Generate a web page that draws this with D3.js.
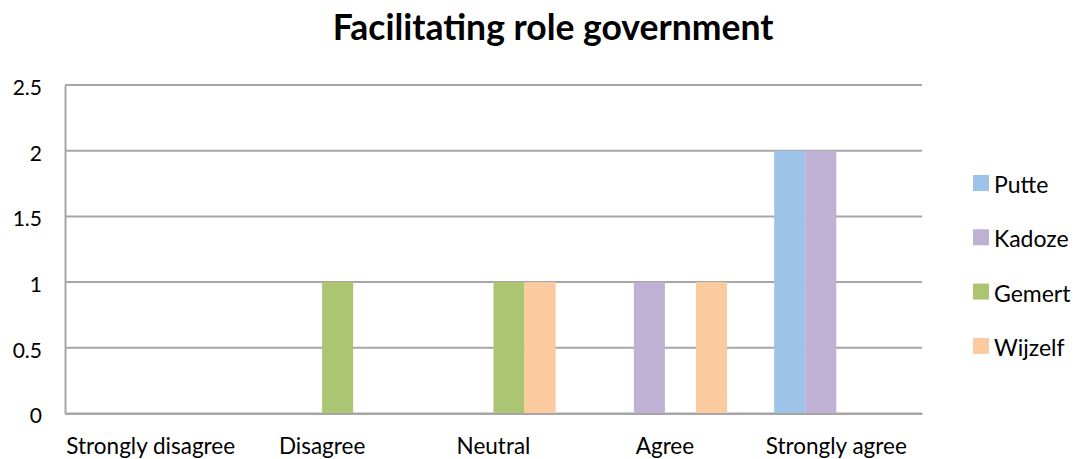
<!DOCTYPE html>
<html>
<head>
<meta charset="utf-8">
<script src="https://cdn.jsdelivr.net/npm/d3@7"></script>
<style>
  html, body { margin: 0; padding: 0; background: #fff; }
  svg { display: block; font-family: Lato, "Open Sans", sans-serif; }
</style>
</head>
<body>
<svg id="chart" width="1077" height="459"></svg>
<script>
// Survey answers per municipality
const categories = ["Strongly disagree", "Disagree", "Neutral", "Agree", "Strongly agree"];
const seriesNames = ["Putte", "Kadoze", "Gemert", "Wijzelf"];
const putte   = [0, 0, 0, 0, 2];
const kadoze  = [0, 0, 0, 1, 2];
const gemert  = [0, 1, 1, 0, 0];
const wijzelf = [0, 0, 1, 1, 0];
const seriesColors = ["#9ec3e8", "#bfb1d4", "#abc572", "#fbca9f"];
const yTicks = [0, 0.5, 1, 1.5, 2, 2.5];
const title = "Facilitating role government";

const values = [putte, kadoze, gemert, wijzelf];
const rows = categories.map((c, i) => {
  const r = { category: c };
  seriesNames.forEach((s, j) => { r[s] = values[j][i]; });
  return r;
});

const svg = d3.select("#chart");
const margin = { left: 65, right: 155 };
const width = 1077;
const plotW = width - margin.left - margin.right;

const x0 = d3.scaleBand().domain(categories)
  .range([margin.left, margin.left + plotW]).paddingInner(0).paddingOuter(0);
const groupW = x0.bandwidth() * 0.725;
const x1 = d3.scaleBand().domain(seriesNames).range([0, groupW]);
const groupOffset = (x0.bandwidth() - groupW) / 2;
const y = d3.scaleLinear().domain([0, 2.5]).range([413.5, 85]);

// Title
svg.append("text")
  .attr("x", 553).attr("y", 40)
  .attr("text-anchor", "middle")
  .attr("font-size", 35.5).attr("font-weight", "bold")
  .attr("fill", "#000")
  .text(title);

// Horizontal gridlines
svg.append("g").selectAll("line").data(yTicks).join("line")
  .attr("x1", margin.left).attr("x2", margin.left + plotW)
  .attr("y1", d => y(d)).attr("y2", d => y(d))
  .attr("stroke", "#a6a6a6").attr("stroke-width", 2);

// Y axis
const yAxis = svg.append("g")
  .attr("transform", `translate(${margin.left},0)`)
  .call(d3.axisLeft(y).tickValues(yTicks).tickSize(0).tickPadding(23).tickFormat(d3.format("")));
yAxis.select(".domain").attr("stroke", "#a6a6a6").attr("stroke-width", 2);
yAxis.selectAll("text").attr("font-size", 21).attr("fill", "#000")
  .attr("font-family", "Lato, sans-serif").attr("dy", "0.45em");

// Bars
svg.append("g").selectAll("g").data(rows).join("g")
  .attr("transform", d => `translate(${x0(d.category) + groupOffset},0)`)
  .selectAll("rect")
  .data(d => seriesNames.map((s, j) => ({ key: s, value: d[s], color: seriesColors[j] })))
  .join("rect")
  .attr("x", d => x1(d.key))
  .attr("width", x1.bandwidth())
  .attr("y", d => y(d.value))
  .attr("height", d => y(0) - y(d.value))
  .attr("fill", d => d.color);

// X axis
const xAxis = svg.append("g")
  .attr("transform", `translate(0,${y(0)})`)
  .call(d3.axisBottom(x0).tickSize(0).tickPadding(0));
xAxis.select(".domain").attr("stroke", "#a6a6a6").attr("stroke-width", 2);
xAxis.selectAll("text").attr("font-size", 22.5).attr("fill", "#000")
  .attr("font-family", "Lato, sans-serif").attr("dy", null).attr("y", 40);

// Legend
const legend = svg.append("g").attr("transform", "translate(973,175)");
const items = legend.selectAll("g").data(seriesNames).join("g")
  .attr("transform", (d, i) => `translate(0,${i * 54.3})`);
items.append("rect").attr("width", 16).attr("height", 16)
  .attr("fill", (d, i) => seriesColors[i]);
items.append("text").attr("x", 21).attr("y", 18)
  .attr("font-size", 23).attr("fill", "#000").text(d => d);
</script>
</body>
</html>
